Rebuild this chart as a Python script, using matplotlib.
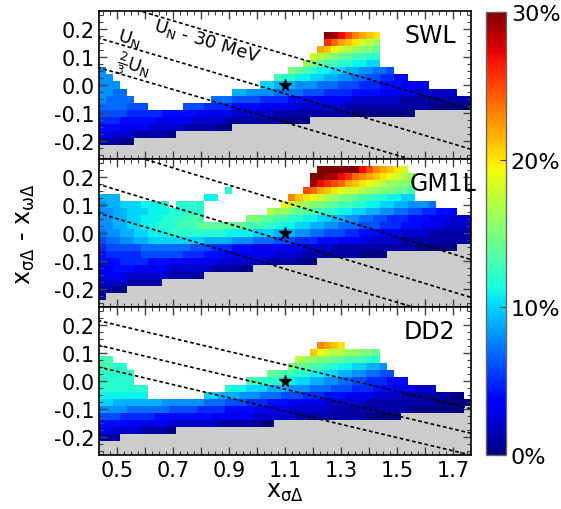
import numpy as np
import matplotlib
matplotlib.use('Agg')
import matplotlib.pyplot as plt
from matplotlib.colors import ListedColormap
from matplotlib.ticker import MultipleLocator, FuncFormatter

plt.rcParams['font.family'] = ['DejaVu Sans']
plt.rcParams['axes.unicode_minus'] = False
plt.rcParams['mathtext.default'] = 'regular'

# ---------------- data ----------------
# grid: 53 columns (x = 0.45 .. 1.75, step 0.025), 21 rows (y = 0.25 .. -0.25)
x_edges = np.linspace(0.4375, 1.7625, 54)
y_edges = np.linspace(0.2625, -0.2625, 22)
CODE = "0123456789abcdefghijklmnopqrstu"   # one char = value in percent (0..30)

panel_names = ["SWL", "GM1L", "DD2"]

swl_cells = {
    3: [(32, "utrpnmlk")],
    4: [(32, "qomlkihg")],
    5: [(31, "mljihgffe")],
    6: [(30, "ihgfeeddcc")],
    7: [(29, "gfeddccbbaa")],
    8: [(0, "8"), (27, "fedcbbaa9988776")],
    9: [(0, "88"), (25, "dccbbaa998877665544")],
    10: [(0, "888"), (23, "aa 999 888 777 666 555 444 3333")],
    11: [(0, "8877"), (19, "99 8888 7777 666 5555 4444 33333 222222")],
    12: [(0, "87777"), (16, "777 6666 5555 4444 33333 2222222 1111111111")],
    13: [(0, "7777666"), (12, "666 5555 4444 33333 2222222 111111111111 000000")],
    14: [(0, "6666 55555 44444 33333 222222 11111111111 000000000")],
    15: [(0, "555 44444 33333 22222 11111111 0000")],
    16: [(0, "444 3333 22222 11111 00")],
    17: [(0, "33 222 11111 0")],
    18: [(0, "11100")],
}
swl_gray_from = [53] * 14 + [45, 30, 19, 11, 5, 0, 0]

gm1l_cells = {
    1: [(31, "uuuuuurpnmlki")],
    2: [(30, "uuttrqonmlkjihg")],
    3: [(30, "trqpomlkjihggff")],
    4: [(18, "c"), (29, "pomlkjiihggffeed")],
    5: [(0, "999"), (15, "bb"), (27, "nlkjihgffeddccbbaa")],
    6: [(0, "899aaabbbc"), (11, "cccc"), (26, "jihgffeeddccbbaa998887")],
    7: [(0, "8899aaabbbccccc"), (24, "hggfeeddccbbaa9988776655443")],
    8: [(0, "8899aabbbcccddd"), (21, "ffeeddccbbaa99887766555444333222")],
    9: [(0, "88 99 aa bb ccc ddd eeeeeee ddd cc bb aa 99 88 777 666 555 444 333 2222")],
    10: [(0, "7 88 99 aa bbb cccccccc bbbb aaa 999 88 77 666 55 444 333 2222 111111")],
    11: [(0, "6 77 88 99 aaaaaaaa 9999 888 777 666 555 444 3333 22222 1111111111")],
    12: [(0, "5 66 666 7777777 666 555 444 333 3333 2222 111111111111 000000")],
    13: [(0, "4 55 555 666666 555 444 333 3333 2222 11111111 0000")],
    14: [(0, "4 44 5555 444 333 3333 222 2222 111 1100")],
    15: [(0, "33 444 333 33 222 222 1111 00")],
    16: [(0, "3 333 222 222 111 11")],
    17: [(0, "2 222 111 11")],
    18: [(0, "1100")],
    19: [(0, "1")],
}
gm1l_gray_from = [53] * 12 + [51, 41, 31, 22, 15, 9, 4, 1, 0]

dd2_cells = {
    5: [(31, "nmlk")],
    6: [(30, "ljihhggffe")],
    7: [(0, "dd"), (28, "hggffeedddcc")],
    8: [(0, "ddcc"), (27, "feeddccbbaa998")],
    9: [(0, "ccccc"), (24, "eeddccbbaa99887766")],
    10: [(0, "ccccc"), (21, "dd ccc bb aa 99 88 77 66 555 444")],
    11: [(0, "ccccccc"), (18, "c bb aaa 999 888 777 666 555 444 333 222")],
    12: [(0, "bbbbbbb"), (15, "aa 999 888 777 666 555 444 3333 2222 1111 111 00")],
    13: [(0, "aa 9999999 888888 777 666 555 444 33333 222222 1111111111 00000")],
    14: [(0, "8888 777777 6666 5555 4444 33333 222222 11111111111 00000000")],
    15: [(0, "666 55555 4444 4444 333 333 222 222 1111 1111 1100 000")],
    16: [(0, "444 4333 333 222 2222 1111 1100")],
    17: [(0, "33 222 2111 10")],
    18: [(0, "111")],
}
dd2_gray_from = [53] * 14 + [52, 43, 25, 11, 3, 0, 0]

# dotted lines: (y at x=0.4375, slope)
swl_lines = [(0.306, -0.297), (0.166, -0.297), (0.061, -0.292)]
gm1l_lines = [(0.3115, -0.306), (0.172, -0.302), (0.0697, -0.297)]
dd2_lines = [(0.2134, -0.235), (0.1263, -0.235), (0.049, -0.235)]

star_x, star_y = 1.1, 0.0

panels = [(swl_cells, swl_gray_from, swl_lines),
          (gm1l_cells, gm1l_gray_from, gm1l_lines),
          (dd2_cells, dd2_gray_from, dd2_lines)]


def build(cells, gray_from):
    nrow, ncol = 21, 53
    Z = np.full((nrow, ncol), np.nan)
    for r, segs in cells.items():
        for start, s in segs:
            vals = [CODE.index(c) for c in s.replace(' ', '')]
            end = min(ncol, start + len(vals))
            Z[r, start:end] = vals[:end - start]
    G = np.zeros((nrow, ncol), dtype=bool)
    for r, g in enumerate(gray_from):
        G[r, g:] = True
    Z[G] = np.nan
    return Z, G


# ---------------- figure ----------------
fig = plt.figure(figsize=(5.61, 5.10), dpi=100)
left, width = 0.177, 0.662
ph = 148 / 510
top = 1 - 12 / 510
gray_cmap = ListedColormap(['#cccccc'])
line_x = np.array([0.3, 1.9])

mesh = None
axes = []
for k, (cells, gray_from, lines) in enumerate(panels):
    ax = fig.add_axes([left, top - ph * (k + 1), width, ph])
    axes.append(ax)
    Z, G = build(cells, gray_from)
    mesh = ax.pcolormesh(x_edges, y_edges, np.ma.masked_invalid(Z), cmap='jet',
                         vmin=0, vmax=30, shading='flat', edgecolors='none')
    ax.pcolormesh(x_edges, y_edges, np.ma.masked_where(~G, np.ones_like(Z)),
                  cmap=gray_cmap, shading='flat', edgecolors='none')
    for b, m in lines:
        ax.plot(line_x, b + m * (line_x - 0.4375), color='black', lw=1.2,
                linestyle=(0, (2.2, 1.6)))
    ax.plot([star_x], [star_y], marker='*', color='black', ms=8.5, ls='none')
    ax.set_xlim(0.4375, 1.7625)
    ax.set_ylim(-0.2625, 0.2625)
    ax.xaxis.set_major_locator(MultipleLocator(0.1))
    ax.xaxis.set_minor_locator(MultipleLocator(0.025))
    ax.yaxis.set_major_locator(MultipleLocator(0.1))
    ax.yaxis.set_minor_locator(MultipleLocator(0.025))
    ax.yaxis.set_major_formatter(FuncFormatter(
        lambda v, p: f"{0.0 if abs(v) < 1e-9 else v:.1f}"))
    if k == 2:
        ax.xaxis.set_major_formatter(FuncFormatter(
            lambda v, p: f"{v:.1f}" if int(round(v * 10)) % 2 == 1 else ""))
    else:
        ax.set_xticklabels([])
    ax.tick_params(which='both', direction='in', top=True, right=True,
                   labelsize=15, color='#444444')
    ax.tick_params(which='major', length=6, width=1)
    ax.tick_params(which='minor', length=3, width=0.8)
    for sp in ax.spines.values():
        sp.set_linewidth(1.2)
    ax.text(0.89 if k != 1 else 0.925, 0.84, panel_names[k], transform=ax.transAxes,
            ha='center', va='center', fontsize=17)

ax0 = axes[0]
ax0.text(0.821, 0.156, r"$U_N$ - 30 MeV", rotation=-17, ha='center', va='center',
         fontsize=13, rotation_mode='anchor')
ax0.text(0.544, 0.167, r"$U_N$", rotation=-17, ha='center', va='center',
         fontsize=13, rotation_mode='anchor')
ax0.text(0.559, 0.069, r"$\frac{2}{3}U_N$", rotation=-17, ha='center', va='center',
         fontsize=13, rotation_mode='anchor')

fig.text(0.045, 0.541, r"x$_{\sigma\Delta}$ - x$_{\omega\Delta}$", rotation=90,
         ha='center', va='center', fontsize=17)
fig.text(0.508, 0.036, r"x$_{\sigma\Delta}$", ha='center', va='center', fontsize=17)

cax = fig.add_axes([486 / 561, 1 - 456 / 510, 20 / 561, 443 / 510])
cb = fig.colorbar(mesh, cax=cax, ticks=[0, 10, 20, 30])
cb.ax.set_yticklabels(['0%', '10%', '20%', '30%'])
cb.ax.tick_params(direction='in', length=4, labelsize=16, color='#444444')
cb.outline.set_edgecolor('#666666')
cb.outline.set_linewidth(1.0)

fig.savefig('out.png', dpi=100)
